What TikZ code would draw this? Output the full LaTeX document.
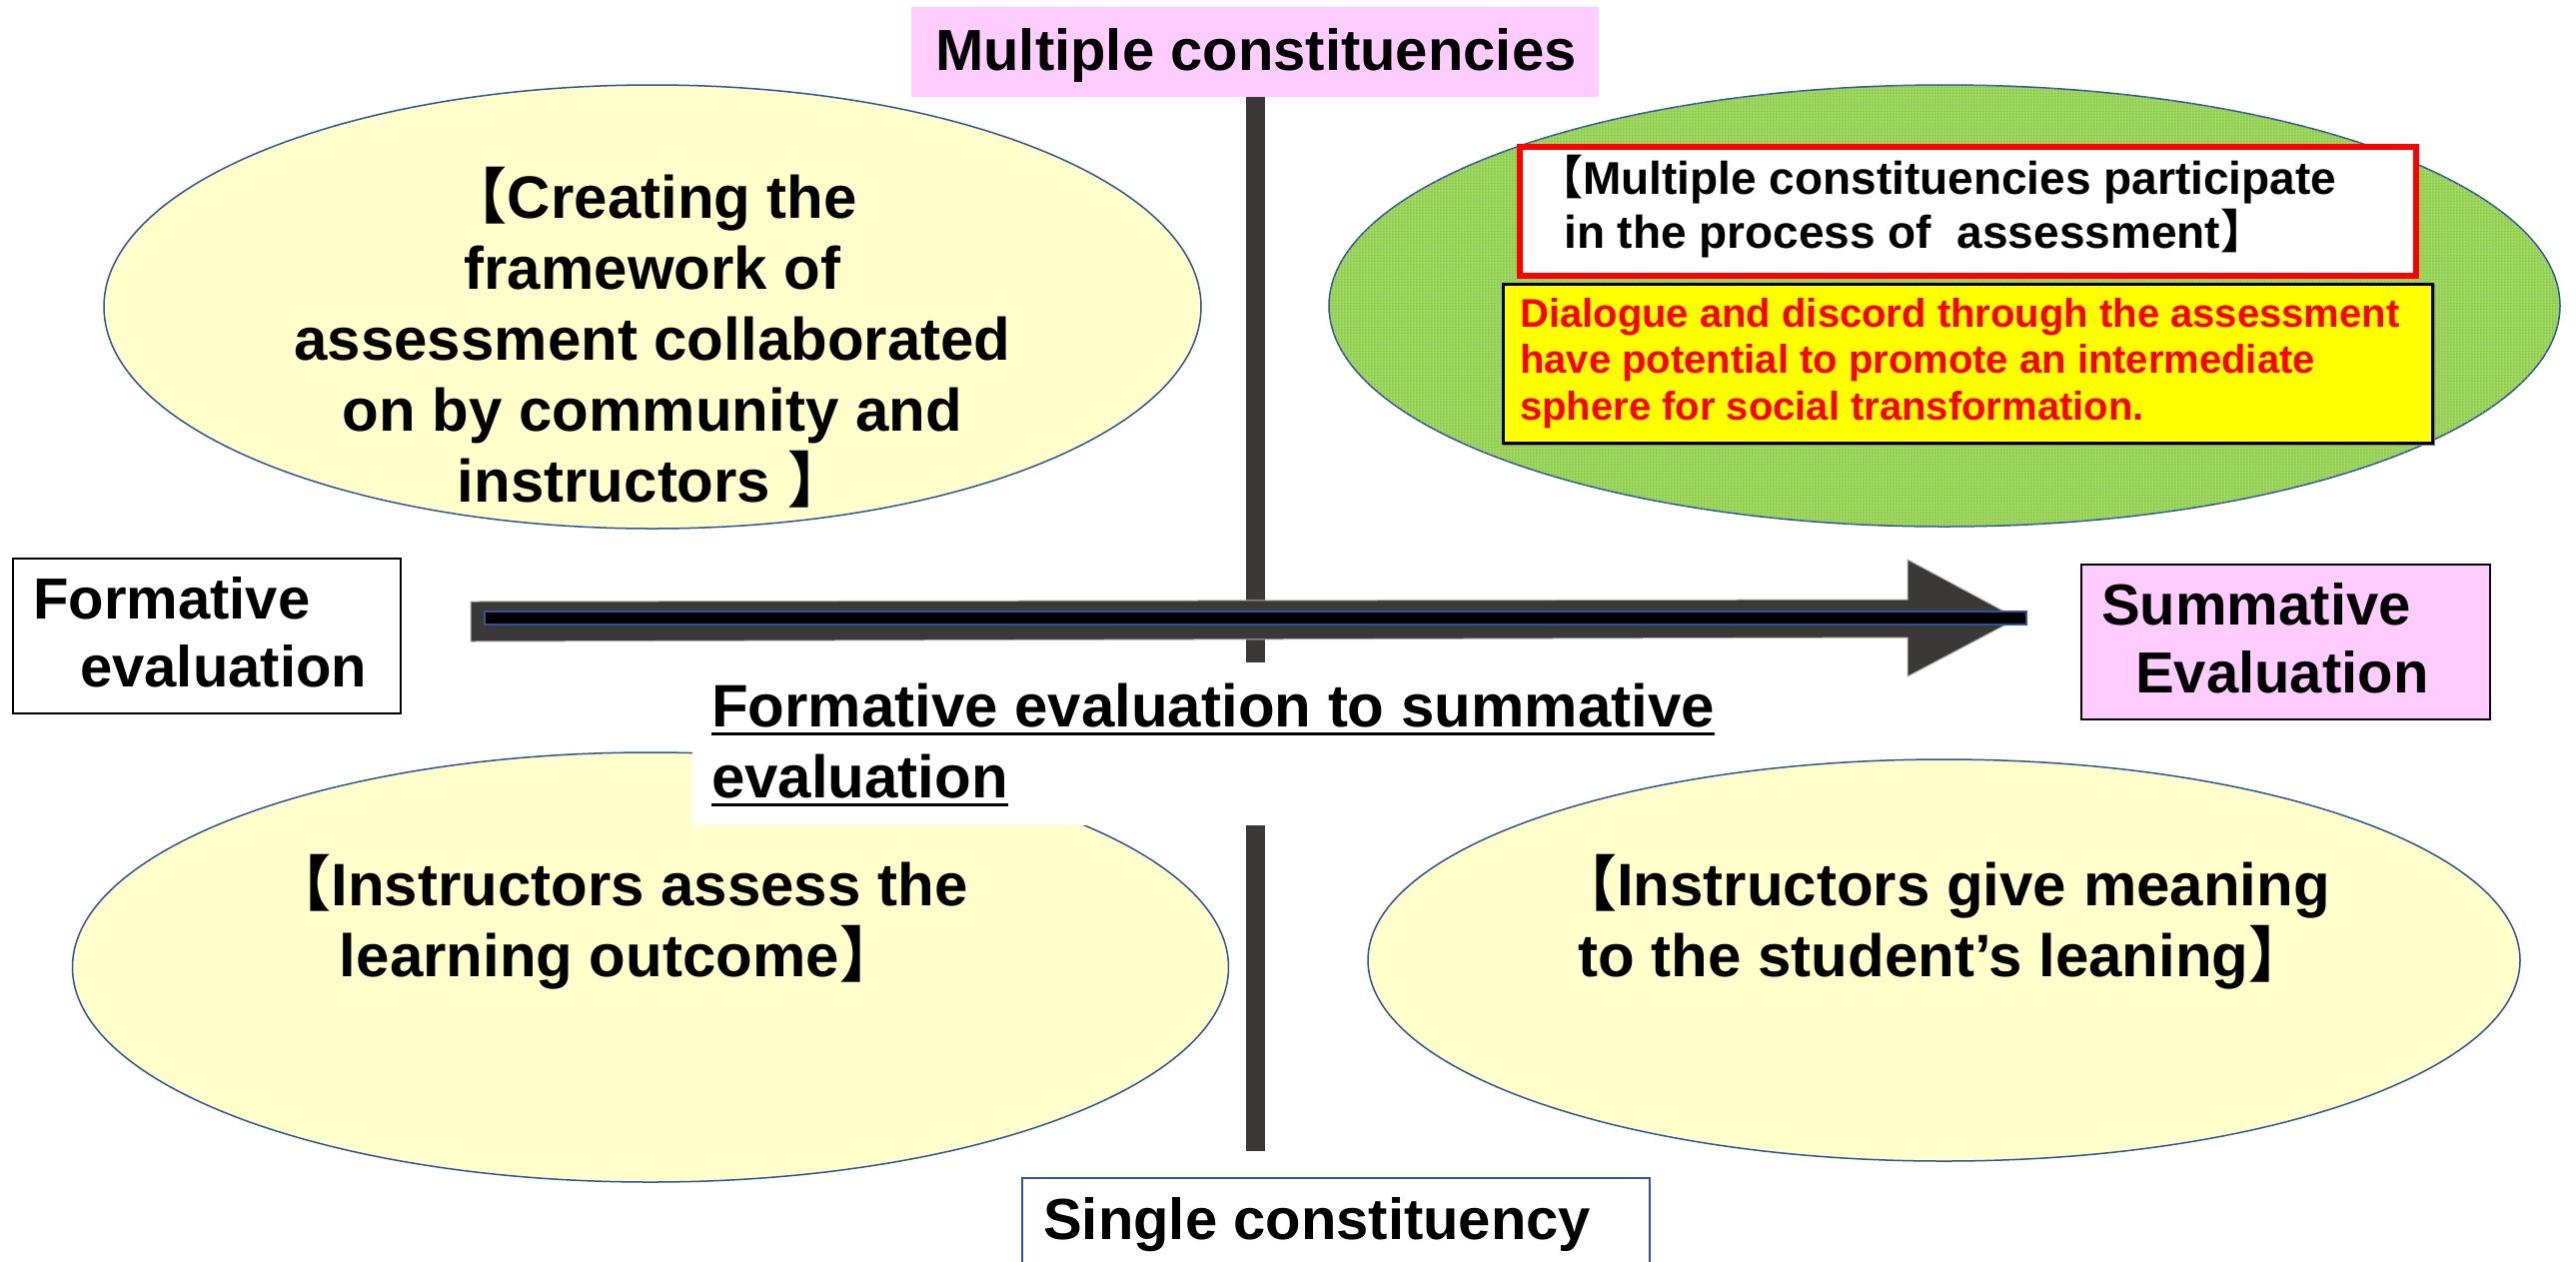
\documentclass[tikz,border=0pt]{standalone}
\usepackage{fontspec}
\setmainfont{Liberation Sans}
\newfontfamily\cjk{Noto Sans CJK JP}
\usetikzlibrary{shapes.geometric,patterns}
\definecolor{ellfill}{HTML}{FFFFCC}
\definecolor{ellline}{HTML}{2F5597}
\definecolor{pinkbg}{HTML}{FFCCFF}
\definecolor{greenbg}{HTML}{92D050}
\definecolor{bardark}{HTML}{3B3838}
\definecolor{yelbox}{HTML}{FFFF00}
\definecolor{redtxt}{HTML}{FF0000}
\newcommand\lbr{{\cjk 【}}
\newcommand\rbr{{\cjk 】}}
\newcommand\myul[1]{\setbox0\hbox{#1}\rlap{\rule[-9pt]{\wd0}{3pt}}\box0}
\begin{document}
\begin{tikzpicture}[x=1pt,y=-1pt,
  ell/.style={ellipse, draw=ellline, line width=1.5pt, fill=ellfill, inner sep=0pt},
  labtxt/.style={font=\bfseries\fontsize{58}{68}\selectfont, inner sep=0pt, anchor=base west, align=left},
  elltxt/.style={font=\bfseries\fontsize{60}{71}\selectfont, inner sep=0pt, anchor=base, align=center},
  boxnode/.style={inner sep=0pt, anchor=north west}]
\fill[white] (0,0) rectangle (2578,1262);
\clip (0,0) rectangle (2578,1262);

% ellipses
\node[ell, minimum width=1098pt, minimum height=444pt] (e1) at (653,307) {};
\node[ell, fill=greenbg, postaction={pattern=dots, pattern color=white}, minimum width=1232pt, minimum height=442pt] (e2) at (1946,306) {};
\node[ell, minimum width=1157pt, minimum height=430pt] (e3) at (651,968) {};
\node[ell, minimum width=1153pt, minimum height=402pt] (e4) at (1945.5,961) {};

% axis labels (boxes)
\node[boxnode, fill=pinkbg, minimum width=688pt, minimum height=90pt] (mc) at (912,7) {};
\node[boxnode, draw=ellline, line width=1.5pt, fill=white, minimum width=628pt, minimum height=130pt] (sc) at (1022,1178) {};

% vertical bar
\draw[bardark, line width=19pt, shorten >=26pt] (mc.south) -- (mc.south |- sc.north);

% horizontal block arrow
\coordinate (as) at (471,622);
\coordinate (ae) at (2019,619);
\fill[bardark, draw=gray!60, line width=1pt] (as) ++(0,-20) -- (1909,600) -- (1909,560) -- (ae) -- (1909,677) -- (1909,638) -- (471,642) -- cycle;
\draw[fill=black, draw=ellline, line width=2pt] (485,612) rectangle (2028,625);

% label box over bar
\node[boxnode, fill=white, minimum width=787pt, minimum height=163pt] (lb) at (693,663) {};
\node[labtxt, font=\bfseries\fontsize{60}{71}\selectfont] (lbt) at (712,798) {\myul{Formative evaluation to summative}\\\myul{evaluation}};

% side boxes
\node[boxnode, draw=black, line width=2pt, fill=white, minimum width=388pt, minimum height=155pt] (fb) at (12,558) {};
\node[labtxt] (fbt) at (33,687) {Formative\\\hspace*{47pt}evaluation};
\node[boxnode, draw=black, line width=2pt, fill=pinkbg, minimum width=409pt, minimum height=155pt] (sb) at (2082,564) {};
\node[labtxt] (sbt) at (2103,693) {Summative\\\hspace*{34pt}Evaluation};

\node[labtxt] (mct) at (936,70) {Multiple constituencies};
\node[labtxt] (sct) at (1044,1240) {Single constituency};

% boxes in green ellipse
\node[boxnode, draw=redtxt, line width=6pt, fill=white, minimum width=897pt, minimum height=129pt] (rb) at (1518,144) {};
\node[labtxt, font=\bfseries\fontsize{46}{54}\selectfont] (rbt) at (1538,248) {\lbr Multiple constituencies participate\\\hspace*{27pt}in the process of\ \ assessment\rbr};
\draw[gray, line width=2pt] (1504,445) -- (2436,445) -- (2436,284);
\node[boxnode, draw=black, line width=3pt, fill=yelbox, minimum width=930pt, minimum height=159pt] (yb) at (1502.5,282.5) {};
\node[labtxt, text=redtxt, font=\bfseries\fontsize{40}{46.5}\selectfont] (ybt) at (1521,420) {Dialogue and discord through the assessment\\have potential to promote an intermediate\\sphere for social transformation.};

% ellipse texts
\node[elltxt] (e1t) at (653,502) {\lbr Creating the\\framework of\\assessment collaborated\\on by community and\\instructors \rbr};
\node[elltxt] (e3t) at (620,977) {\lbr Instructors assess the\\learning outcome\rbr};
\node[elltxt] (e4t) at (1945,977) {\lbr Instructors give meaning\\to the student’s leaning\rbr};
\end{tikzpicture}
\end{document}
